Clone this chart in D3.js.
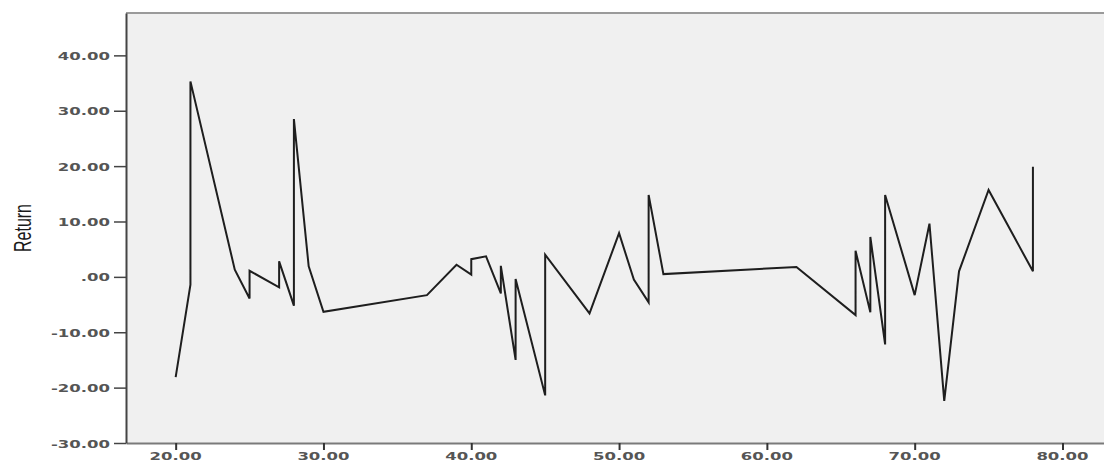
<!DOCTYPE html>
<html>
<head>
<meta charset="utf-8">
<script src="https://cdn.jsdelivr.net/npm/d3@7"></script>
<style>
    body { margin: 0; background: #fff; }
    svg { display: block; }
</style>
</head>
<body>
<svg id="chart" width="1104" height="462"></svg>
<script>
// age on x, return on y (SPSS style line chart, points sorted by age)
const ages = [20, 21, 21, 24, 25, 25, 27, 27, 28, 28, 29, 30, 37, 39, 40, 40, 41, 42, 42, 43, 43,
    45, 45, 48, 50, 51, 52, 52, 53, 62, 66, 66, 67, 67, 68, 68, 70, 71, 72, 73, 75, 78, 78];
const returns = [-18.1, -1.4, 35.3, 1.3, -3.9, 1.1, -1.9, 2.8, -5.2, 28.5, 1.9, -6.3, -3.3, 2.2, 0.4, 3.2, 3.7, -3.0, 2.0, -15.0, -0.4,
    -21.4, 4.0, -6.6, 7.9, -0.5, -4.6, 14.8, 0.5, 1.8, -6.9, 4.7, -6.4, 7.2, -12.2, 14.8, -3.3, 9.6, -22.4, 1.0, 15.7, 1.0, 19.9];

const xTicks = [20, 30, 40, 50, 60, 70, 80];
const yTicks = [-30, -20, -10, 0, 10, 20, 30, 40];
const yTitle = "Return";

const svg = d3.select("#chart");

const plot = {left: 126, top: 13, right: 1112, bottom: 443};

const x = d3.scaleLinear().domain([16.64, 83.35]).range([plot.left, plot.right]);
const y = d3.scaleLinear().domain([-30, 47.65]).range([plot.bottom, plot.top]);

// SPSS writes 0 as ".00" and uses a plain hyphen
function fmt(v) {
    const s = v.toFixed(2);
    return s.replace(/^(-?)0\./, "$1.");
}

// background of the plot area
svg.append("rect")
    .attr("x", plot.left)
    .attr("y", plot.top)
    .attr("width", plot.right - plot.left)
    .attr("height", plot.bottom - plot.top)
    .attr("fill", "#f0f0f0");

// frame top
svg.append("line")
    .attr("x1", plot.left).attr("x2", plot.right)
    .attr("y1", plot.top).attr("y2", plot.top)
    .attr("stroke", "#9a9a9a")
    .attr("stroke-width", 2);

// x axis
const xAxis = svg.append("g")
    .attr("transform", `translate(0, ${plot.bottom})`)
    .call(d3.axisBottom(x).tickValues(xTicks).tickSizeInner(7).tickSizeOuter(0).tickFormat(""));
xAxis.select(".domain").attr("stroke", "#7a7a7a").attr("stroke-width", 2);
xAxis.selectAll(".tick line").attr("stroke", "#333").attr("stroke-width", 2);

svg.append("g").selectAll("text")
    .data(xTicks)
    .join("text")
    .attr("transform", d => `translate(${x(d)}, 459.5) scale(1.5, 1)`)
    .attr("text-anchor", "middle")
    .attr("font-family", "DejaVu Sans")
    .attr("font-size", "11px")
    .attr("font-weight", 600)
    .attr("fill", "#555")
    .text(d => fmt(d));

// y axis
const yAxis = svg.append("g")
    .attr("transform", `translate(${plot.left}, 0)`)
    .call(d3.axisLeft(y).tickValues(yTicks).tickSizeInner(12).tickSizeOuter(0).tickFormat(""));
yAxis.select(".domain").attr("stroke", "#444").attr("stroke-width", 2);
yAxis.selectAll(".tick line").attr("stroke", "#444").attr("stroke-width", 1.5);

svg.append("g").selectAll("text")
    .data(yTicks)
    .join("text")
    .attr("transform", d => `translate(110, ${y(d) + 4.5}) scale(1.5, 1)`)
    .attr("text-anchor", "end")
    .attr("font-family", "DejaVu Sans")
    .attr("font-size", "11px")
    .attr("font-weight", 600)
    .attr("fill", "#555")
    .text(d => fmt(d));

svg.append("text")
    .attr("transform", "translate(31, 228) scale(1.45, 1) rotate(-90)")
    .attr("text-anchor", "middle")
    .attr("font-family", "Liberation Sans Narrow, Liberation Sans")
    .attr("font-size", "16px")
    .attr("fill", "#1a1a1a")
    .text(yTitle);

// the data line
const points = ages.map((a, i) => [a, returns[i]]);
const line = d3.line()
    .x(d => x(d[0]))
    .y(d => y(d[1]));

svg.append("path")
    .datum(points)
    .attr("d", line)
    .attr("fill", "none")
    .attr("stroke", "#1e1e1e")
    .attr("stroke-width", 2)
    .attr("stroke-linejoin", "miter");
</script>
</body>
</html>
